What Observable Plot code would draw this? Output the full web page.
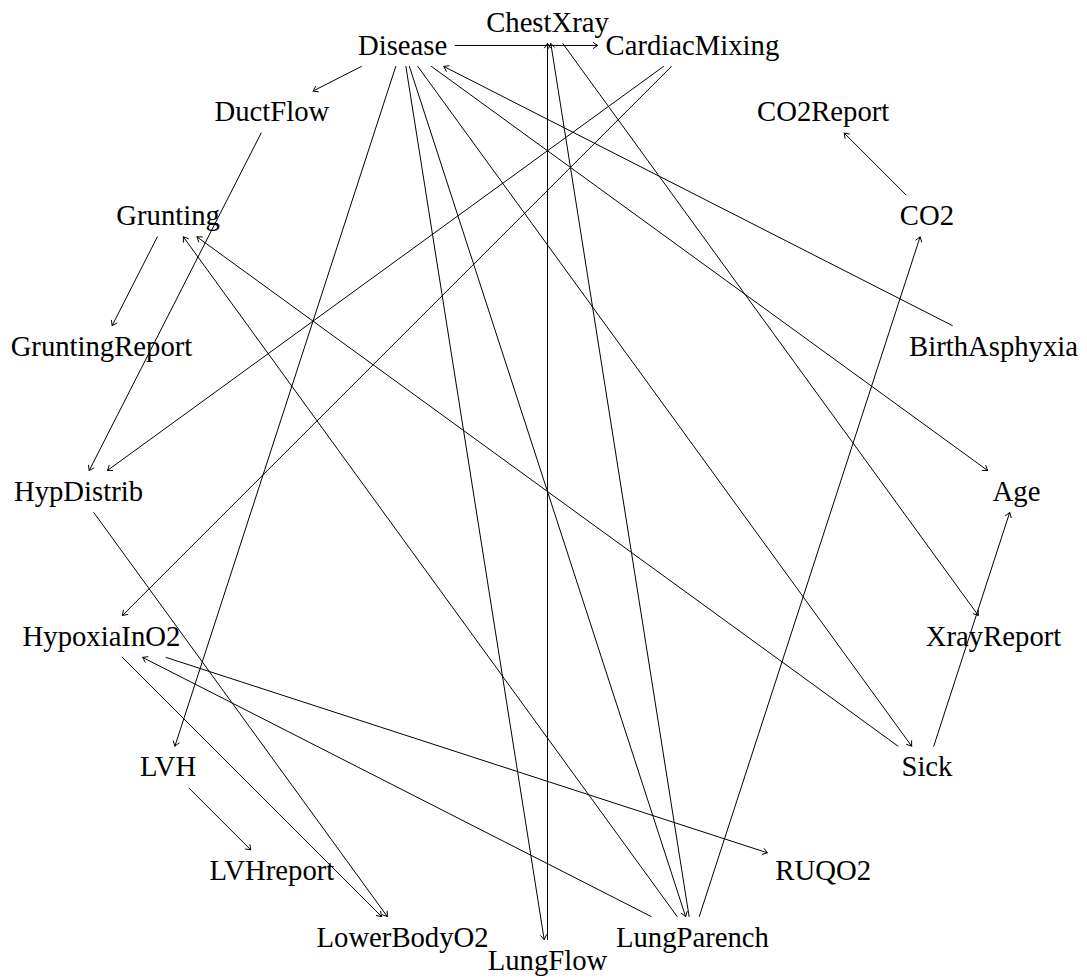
<!DOCTYPE html>
<html><head><meta charset="utf-8">
<script src="https://cdn.jsdelivr.net/npm/d3@7"></script>
<script src="https://cdn.jsdelivr.net/npm/@observablehq/plot@0.6"></script>
<style>body{margin:0;background:#fff}</style>
</head><body><div id="chart"></div>
<script>
// Nodes, placed counter-clockwise from east in this order
const nodes = ["Age","BirthAsphyxia","CO2","CO2Report","CardiacMixing","ChestXray","Disease","DuctFlow","Grunting","GruntingReport","HypDistrib","HypoxiaInO2","LVH","LVHreport","LowerBodyO2","LungFlow","LungParench","RUQO2","Sick","XrayReport"];
// Directed edges
const edgeFrom = ["Disease","Disease","Disease","Disease","Disease","Disease","Disease","BirthAsphyxia","LVH","DuctFlow","CardiacMixing","CardiacMixing","LungParench","LungParench","LungParench","LungParench","LungFlow","HypDistrib","HypoxiaInO2","HypoxiaInO2","CO2","ChestXray","Grunting","Sick","Sick"];
const edgeTo = ["CardiacMixing","DuctFlow","LVH","LungFlow","LungParench","Sick","Age","Disease","LVHreport","HypDistrib","HypDistrib","HypoxiaInO2","HypoxiaInO2","CO2","ChestXray","Grunting","ChestXray","LowerBodyO2","LowerBodyO2","RUQO2","CO2Report","XrayReport","GruntingReport","Grunting","Age"];

const W = 1087, H = 980, CX = 547, CY = 491, R = 469;
const FONT_SIZE = 28.7, FONT = "Liberation Serif";
const PADX = 8, HALF_H = 21;

const ctx = document.createElement("canvas").getContext("2d");
ctx.font = `${FONT_SIZE}px "${FONT}"`;

const n = nodes.length;
const nodeData = nodes.map((name, i) => {
  const a = i * 2 * Math.PI / n;
  const w = ctx.measureText(name).width;
  return {name, x: Math.cos(a), y: Math.sin(a), hw: (w / 2 + PADX) / R, hh: HALF_H / R};
});
const byName = new Map(nodeData.map(d => [d.name, d]));

function clipT(node, dx, dy) {
  const tx = Math.abs(dx) > 1e-9 ? node.hw / Math.abs(dx) : Infinity;
  const ty = Math.abs(dy) > 1e-9 ? node.hh / Math.abs(dy) : Infinity;
  return Math.min(tx, ty);
}
const edges = edgeFrom.map((s, i) => {
  const a = byName.get(s), b = byName.get(edgeTo[i]);
  const dx = b.x - a.x, dy = b.y - a.y;
  const ta = clipT(a, dx, dy), tb = clipT(b, dx, dy);
  return {x1: a.x + dx * ta, y1: a.y + dy * ta, x2: b.x - dx * tb, y2: b.y - dy * tb};
});

const chart = Plot.plot({
  width: W, height: H, margin: 0,
  x: {domain: [-1, 1], range: [CX - R, CX + R], axis: null},
  y: {domain: [-1, 1], range: [CY + R, CY - R], axis: null},
  style: {background: "white"},
  marks: [
    Plot.text(nodeData, {x: "x", y: "y", text: "name", fontSize: FONT_SIZE, fontFamily: FONT, fill: "black"}),
    Plot.arrow(edges, {x1: "x1", y1: "y1", x2: "x2", y2: "y2", stroke: "black", strokeWidth: 1, strokeOpacity: 1, headLength: 8, headAngle: 70})
  ]
});
document.getElementById("chart").appendChild(chart);
</script>
</body></html>
